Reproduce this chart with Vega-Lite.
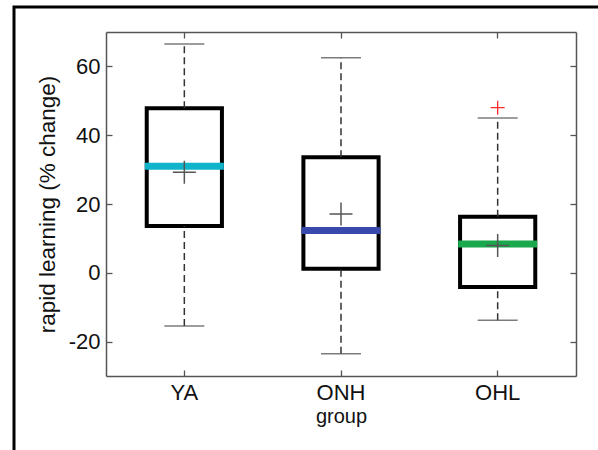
{
  "$schema": "https://vega.github.io/schema/vega-lite/v6.json",
  "width": 600,
  "height": 460,
  "autosize": {"type": "none"},
  "padding": {"left": 14, "top": 7, "right": 0, "bottom": 0},
  "background": "white",
  "datasets": {
    "boxes": [
      {"group": "YA", "lo": -15.5, "q1": 13.6, "median": 31.0, "q3": 47.8, "hi": 66.5, "mean": 29.2},
      {"group": "ONH", "lo": -23.5, "q1": 1.2, "median": 12.3, "q3": 33.6, "hi": 62.5, "mean": 17.1},
      {"group": "OHL", "lo": -13.8, "q1": -4.1, "median": 8.4, "q3": 16.3, "hi": 45.0, "mean": 7.9}
    ],
    "outliers": [
      {"group": "OHL", "value": 48.0}
    ]
  },
  "data": {"name": "boxes"},
  "resolve": {"axis": {"x": "independent", "y": "independent"}},
  "layer": [
    {
      "mark": {"type": "bar", "fill": "white", "stroke": "black", "strokeWidth": 4},
      "encoding": {
        "x": {
          "field": "group", "type": "nominal", "sort": ["YA", "ONH", "OHL"],
          "scale": {"type": "band", "domain": ["YA", "ONH", "OHL"], "range": [92, 562], "paddingInner": 0.52, "paddingOuter": 0.26},
          "axis": {"orient": "bottom", "offset": -91, "title": "group", "labelAngle": 0, "labelPadding": 12, "titlePadding": 3, "titleFontSize": 20}
        },
        "y": {
          "field": "q1", "type": "quantitative",
          "scale": {"domain": [-30, 70], "range": [369, 25], "nice": false, "zero": false},
          "axis": {"orient": "left", "offset": -92, "values": [-20, 0, 20, 40, 60], "labelExpr": "'' + datum.value", "title": "rapid learning (% change)", "labelPadding": 12, "titlePadding": 9, "titleFontSize": 22.5}
        },
        "y2": {"field": "q3"}
      }
    },
    {
      "mark": {"type": "rule", "color": "#333", "strokeWidth": 1.5, "strokeDash": [7, 4]},
      "encoding": {
        "x": {"field": "group", "type": "nominal", "axis": null},
        "y": {"field": "q3", "type": "quantitative", "axis": null},
        "y2": {"field": "hi"}
      }
    },
    {
      "mark": {"type": "rule", "color": "#333", "strokeWidth": 1.5, "strokeDash": [7, 4]},
      "encoding": {
        "x": {"field": "group", "type": "nominal", "axis": null},
        "y": {"field": "lo", "type": "quantitative", "axis": null},
        "y2": {"field": "q1"}
      }
    },
    {
      "mark": {"type": "tick", "color": "#444", "size": 40, "thickness": 1.5},
      "encoding": {
        "x": {"field": "group", "type": "nominal", "axis": null},
        "y": {"field": "hi", "type": "quantitative", "axis": null}
      }
    },
    {
      "mark": {"type": "tick", "color": "#444", "size": 40, "thickness": 1.5},
      "encoding": {
        "x": {"field": "group", "type": "nominal", "axis": null},
        "y": {"field": "lo", "type": "quantitative", "axis": null}
      }
    },
    {
      "mark": {"type": "tick", "size": 79, "thickness": 7, "opacity": 1},
      "encoding": {
        "x": {"field": "group", "type": "nominal",
          "axis": {"orient": "top", "offset": -25, "labels": false, "title": null}},
        "y": {"field": "median", "type": "quantitative",
          "axis": {"orient": "right", "offset": -38, "labels": false, "title": null, "values": [-20, 0, 20, 40, 60]}},
        "color": {"field": "group", "type": "nominal",
          "scale": {"domain": ["YA", "ONH", "OHL"], "range": ["#0fb4cb", "#3949ab", "#19a84c"]}, "legend": null}
      }
    },
    {
      "mark": {"type": "point", "shape": "M-1,0H1M0,-1V1", "size": 529, "filled": false, "stroke": "#555", "strokeWidth": 1.5, "opacity": 1},
      "encoding": {
        "x": {"field": "group", "type": "nominal", "axis": null},
        "y": {"field": "mean", "type": "quantitative", "axis": null}
      }
    },
    {
      "data": {"name": "outliers"},
      "mark": {"type": "point", "shape": "M-1,0H1M0,-1V1", "size": 196, "filled": false, "stroke": "#ff2a2a", "strokeWidth": 1.3, "opacity": 1},
      "encoding": {
        "x": {"field": "group", "type": "nominal", "axis": null},
        "y": {"field": "value", "type": "quantitative", "axis": null}
      }
    }
  ],
  "config": {
    "view": {"stroke": "black", "strokeWidth": 3},
    "axis": {
      "grid": false,
      "domainColor": "#555", "domainWidth": 1.5,
      "tickColor": "#555", "tickWidth": 1.3, "tickSize": -6,
      "labelFont": "Liberation Sans", "labelFontSize": 22, "labelColor": "#111",
      "titleFont": "Liberation Sans", "titleFontWeight": "normal", "titleColor": "#111"
    }
  }
}
